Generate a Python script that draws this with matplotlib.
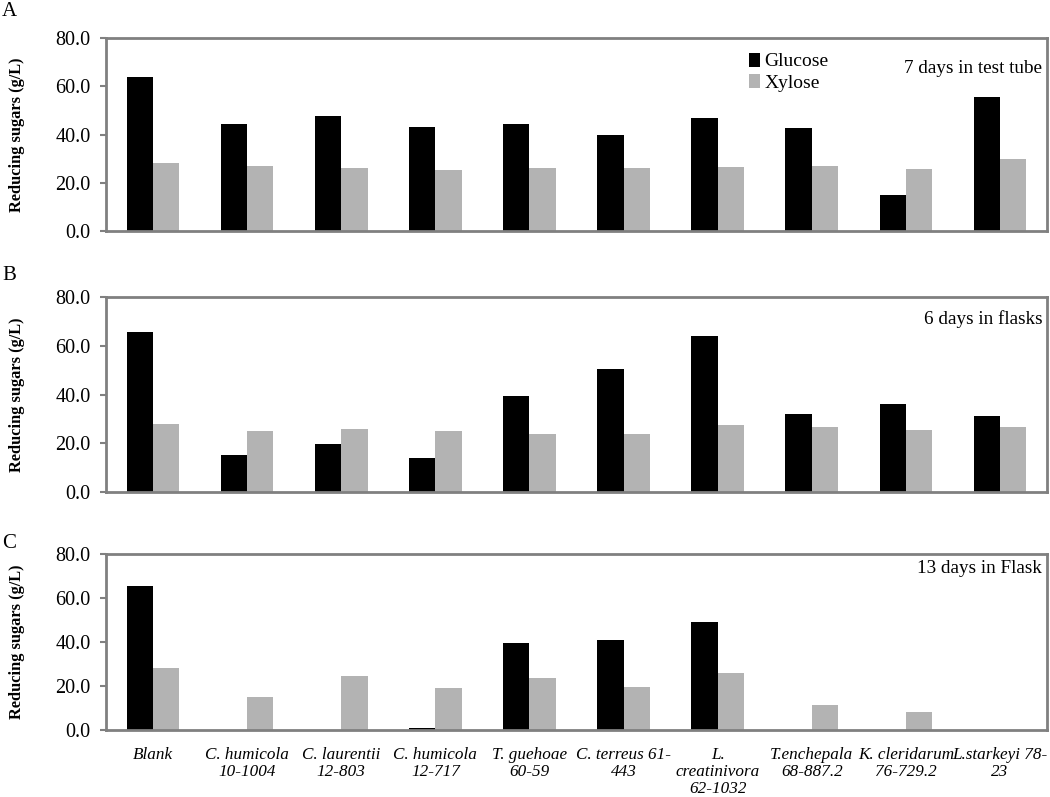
import matplotlib
matplotlib.use('Agg')
import matplotlib.pyplot as plt
import numpy as np

strains = ['Blank', 'C. humicola\n10-1004', 'C. laurentii\n12-803', 'C. humicola\n12-717',
           'T. guehoae\n60-59', 'C. terreus 61-\n443', 'L.\ncreatinivora\n62-1032',
           'T.enchepala\n68-887.2', 'K. cleridarum\n76-729.2', 'L.starkeyi 78-\n23']

glucose_a = [64.0, 44.5, 47.8, 43.0, 44.5, 40.0, 46.8, 42.5, 15.0, 55.5]
xylose_a = [28.0, 26.8, 26.0, 25.2, 26.3, 26.3, 26.4, 27.0, 25.9, 30.0]
glucose_b = [65.5, 15.3, 19.5, 14.0, 39.5, 50.5, 64.0, 32.0, 36.0, 31.0]
xylose_b = [28.0, 25.0, 26.0, 25.0, 24.0, 23.7, 27.5, 26.7, 25.3, 26.7]
glucose_c = [65.5, 0.0, 0.0, 1.0, 39.5, 41.0, 49.0, 0.0, 0.0, 0.0]
xylose_c = [28.0, 15.0, 24.5, 19.0, 23.7, 19.5, 25.8, 11.2, 8.0, 0.0]

panels = [('A', '7 days in test tube', glucose_a, xylose_a),
          ('B', '6 days in flasks', glucose_b, xylose_b),
          ('C', '13 days in Flask', glucose_c, xylose_c)]

plt.rcParams['font.family'] = ['Liberation Serif', 'DejaVu Serif']

W, H = 1050, 797
fig = plt.figure(figsize=(W / 100, H / 100), dpi=100)

# axes boxes in pixels: (top, bottom)
boxes = [(38, 231), (297, 492), (554, 730)]
letter_y = [11, 275, 543]
note_y = [0.84, 0.885, 0.915]
left, right = 106, 1047
x = np.arange(len(strains))
bw = 0.28

for i, (letter, note, glu, xyl) in enumerate(panels):
    top, bot = boxes[i]
    ax = fig.add_axes([left / W, 1 - bot / H, (right - left) / W, (bot - top) / H])
    ax.bar(x - bw / 2, glu, bw, color='black', label='Glucose')
    ax.bar(x + bw / 2, xyl, bw, color='#b3b3b3', label='Xylose')
    ax.set_xlim(-0.5, len(strains) - 0.5)
    ax.set_ylim(0, 80)
    ax.set_yticks([0, 20, 40, 60, 80])
    ax.set_yticklabels([f'{v:.1f}' for v in [0, 20, 40, 60, 80]], fontsize=14.5)
    ax.tick_params(axis='y', length=4.5, width=1.5, color='#808080', pad=6.5)
    ax.tick_params(axis='x', length=0)
    for s in ax.spines.values():
        s.set_color('#808080')
        s.set_linewidth(2)
    ax.set_ylabel('Reducing sugars (g/L)', fontsize=11.8, fontweight='bold')
    ax.yaxis.set_label_coords(-0.086, 0.5)
    ax.text(0.995, note_y[i], note, transform=ax.transAxes, ha='right', va='center', fontsize=13.8)
    fig.text(2 / W, 1 - letter_y[i] / H, letter, fontsize=15, va='center', ha='left')
    if i == 2:
        ax.set_xticks(x)
        ax.set_xticklabels(strains, fontsize=12.3, style='italic', linespacing=1.08, va='top')
        ax.tick_params(axis='x', pad=12)
    else:
        ax.set_xticks([])
    if i == 0:
        ax.legend(loc='upper left', bbox_to_anchor=(0.675, 0.965), frameon=False,
                  fontsize=14, handlelength=0.55, handleheight=0.75, handletextpad=0.25,
                  labelspacing=0.18, borderaxespad=0)

fig.savefig('out.png', dpi=100)
